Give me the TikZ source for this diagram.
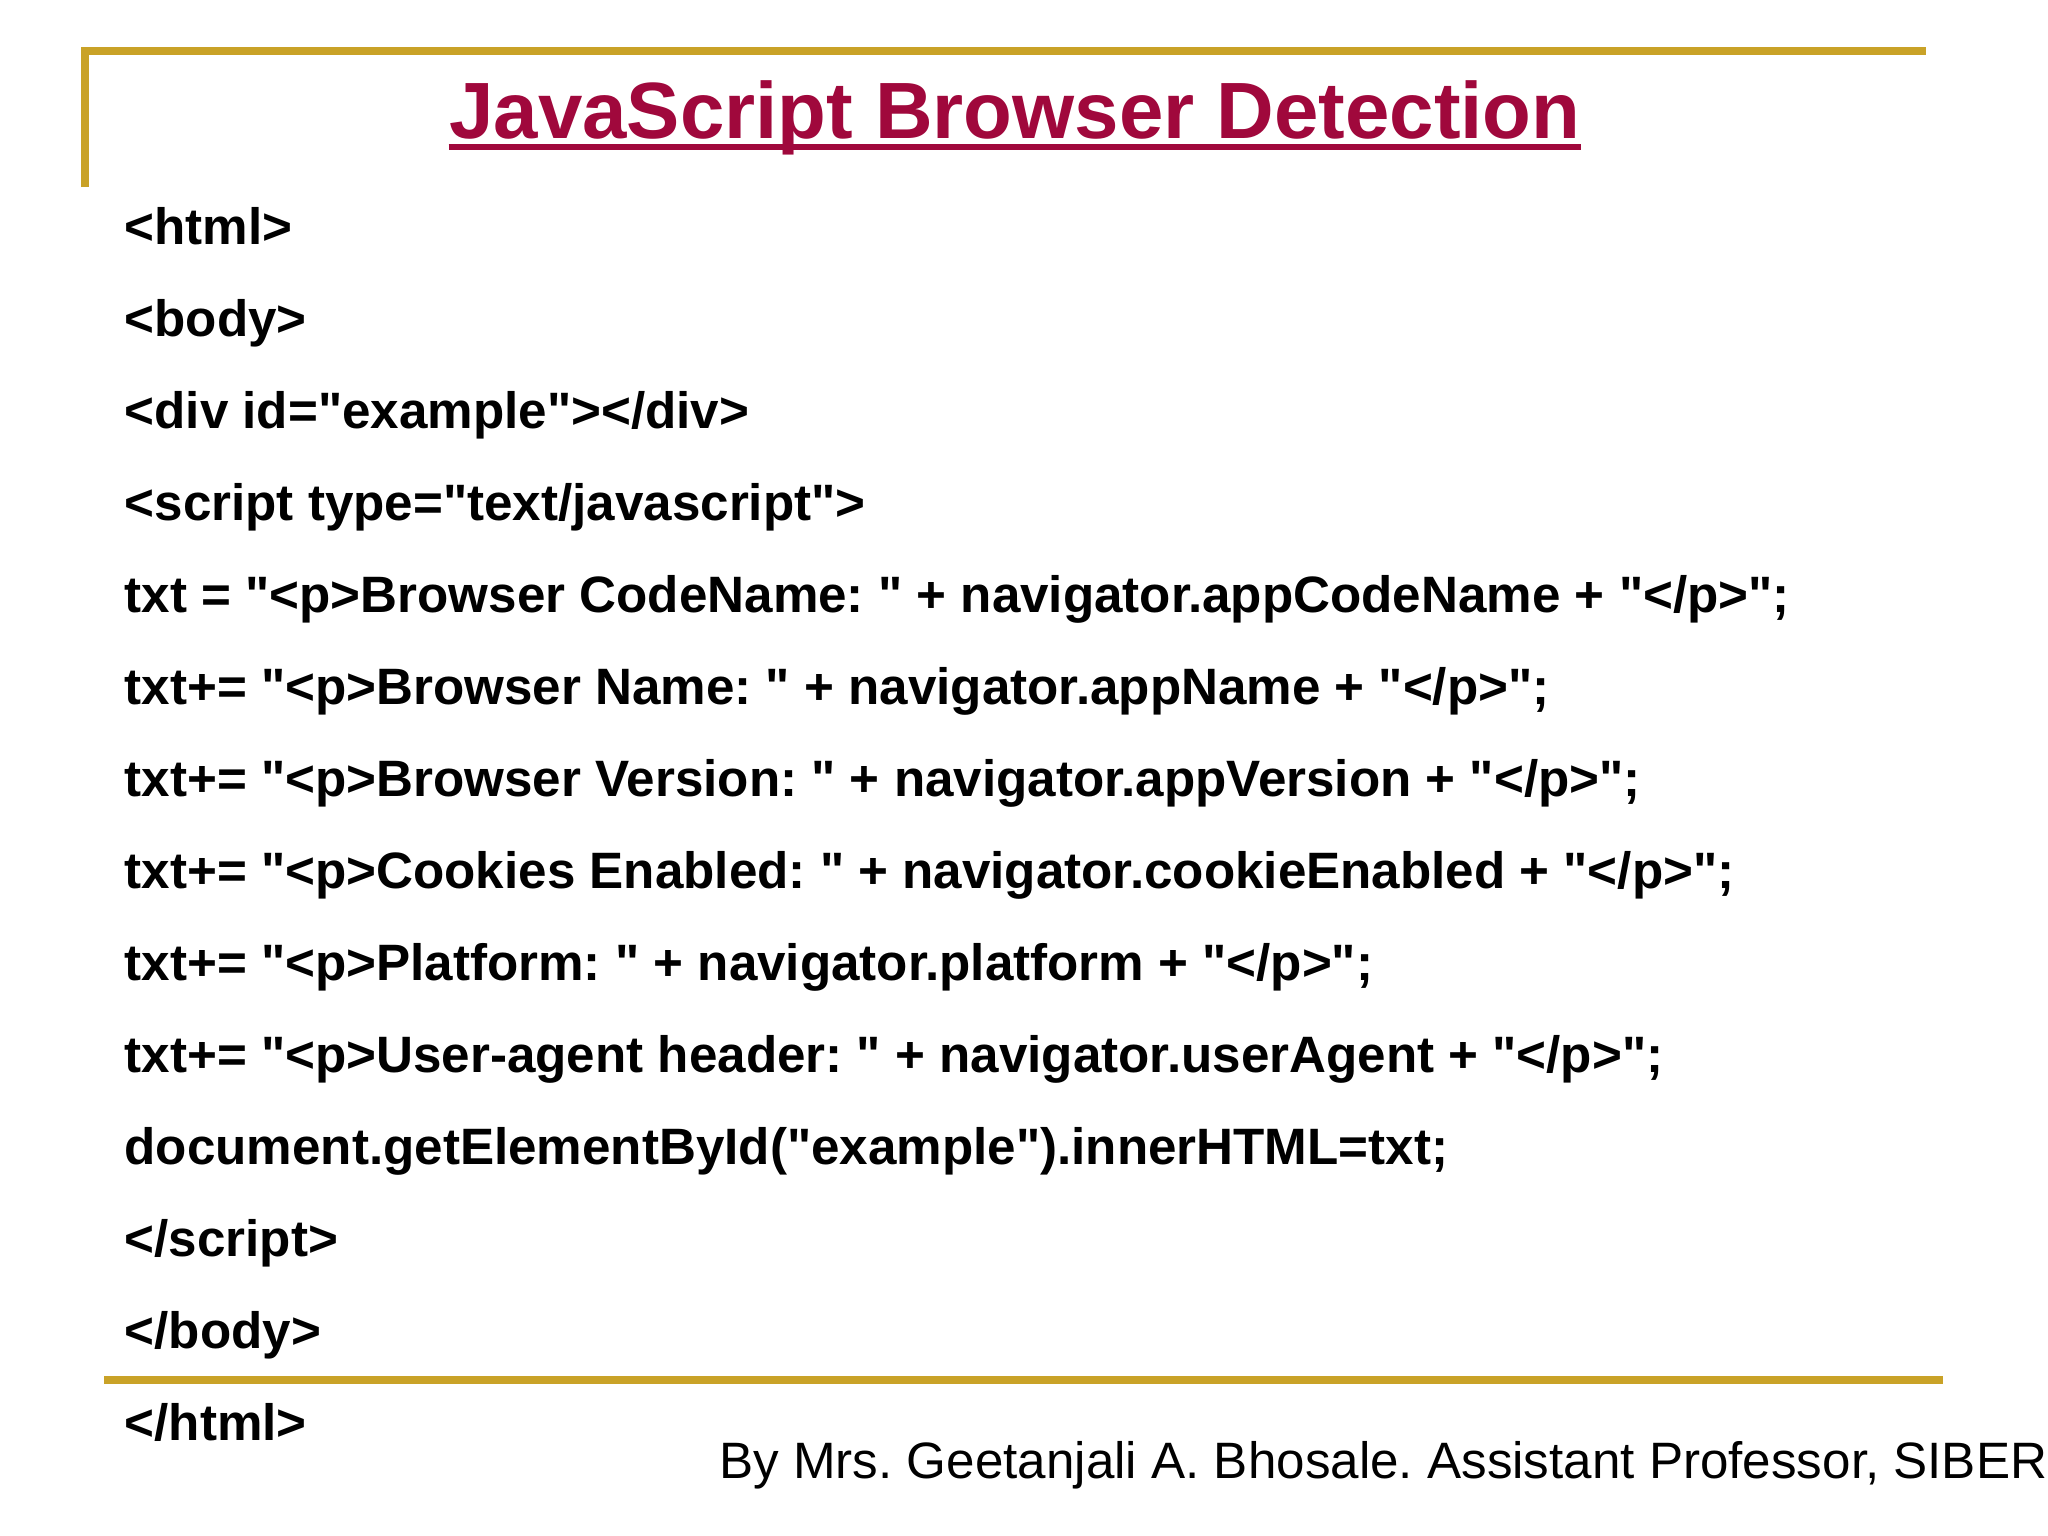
\documentclass[tikz,border=0pt]{standalone}
\usepackage{fontspec}
\setmainfont{Liberation Sans}[Ligatures=TeXOff]
\definecolor{gold}{HTML}{C9A227}
\definecolor{titlered}{HTML}{A0083C}
\begin{document}
\frenchspacing
\begin{tikzpicture}[x=0.01cm,y=-0.01cm,
  code/.style={anchor=base west,inner sep=0pt,font=\fontsize{14.55pt}{16pt}\selectfont\bfseries}]
\useasboundingbox[fill=white] (0,0) rectangle (2048,1536);
\draw[gold,line width=2.5pt] (85,187) -- (85,51) -- (1926,51);
\draw[gold,line width=2.5pt] (104,1380) -- (1943,1380);
\node[anchor=base,inner sep=0pt,text=titlered,font=\fontsize{22.7pt}{26pt}\selectfont\bfseries] (title) at (1015,138) {JavaScript Browser Detection};
\draw[titlered,line width=1.8pt] ([yshift=-2.6pt]title.base west) -- ([yshift=-2.6pt]title.base east);
\foreach \t [count=\i from 0] in {
<html>,
<body>,
<div id="example"></div>,
<script type="text/javascript">,
txt = "<p>Browser CodeName: " + navigator.appCodeName + "</p>";,
txt+= "<p>Browser Name: " + navigator.appName + "</p>";,
txt+= "<p>Browser Version: " + navigator.appVersion + "</p>";,
txt+= "<p>Cookies Enabled: " + navigator.cookieEnabled + "</p>";,
txt+= "<p>Platform: " + navigator.platform + "</p>";,
txt+= "<p>User-agent header: " + navigator.userAgent + "</p>";,
document.getElementById("example").innerHTML=txt;,
</script>,
</body>,
</html>}
  \node[code] (l\i) at (124,{244+92*\i}) {\t};
\node[anchor=base east,inner sep=0pt,font=\fontsize{14.55pt}{16pt}\selectfont] (foot) at (2048,1478) {By Mrs. Geetanjali A. Bhosale. Assistant Professor, SIBER};
\end{tikzpicture}
\end{document}
